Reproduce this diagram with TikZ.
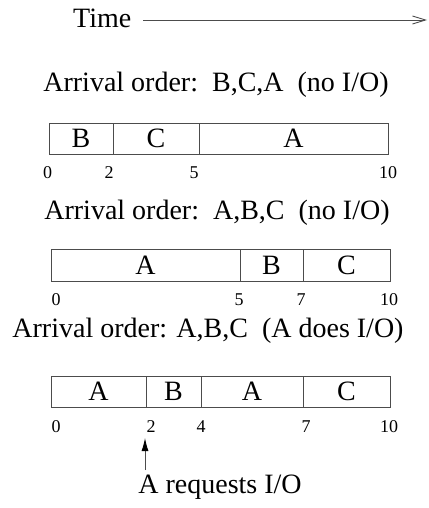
\documentclass[tikz,border=0pt]{standalone}
\usepackage{fontspec}
\setmainfont{Liberation Serif}
\usetikzlibrary{arrows.meta}
\begin{document}
\begin{tikzpicture}[x=1pt,y=-1pt,
  big/.style={inner sep=0pt, font=\fontsize{28}{30}\selectfont},
  tick/.style={inner sep=0pt, anchor=base, font=\fontsize{18}{20}\selectfont},
  seg/.style={draw=black!70, line width=0.9pt, rectangle, inner sep=0pt, font=\fontsize{28}{30}\selectfont},
  ]
\useasboundingbox (0,0) rectangle (428,508);
% time axis
\node[big, anchor=base west] (time) at (73,28) {Time};
\coordinate (tend) at (427,20);
\draw[black!70, line width=0.9pt, -{Straight Barb[length=13pt,width=8pt]}] (143,20) -- (tend);

% bar 1
\node[big, anchor=base] (t1) at (216,92) {Arrival order:\ \ B,C,A\ \ (no I/O)};
\node[seg, minimum width=64pt, minimum height=31pt] (b1a) at (81,138.5) {B};
\node[seg, minimum width=86pt, minimum height=31pt] (b1b) at (156,138.5) {C};
\node[seg, minimum width=189pt, minimum height=31pt] (b1c) at (293.5,138.5) {A};
\node[tick] (k10) at (47.5,178) {0};
\node[tick] (k12) at (109,178) {2};
\node[tick] (k15) at (194,178) {5};
\node[tick] (k110) at (388,178) {10};

% bar 2
\node[big, anchor=base] (t2) at (217,219) {Arrival order:\ \ A,B,C\ \ (no I/O)};
\node[seg, minimum width=189pt, minimum height=32pt] (b2a) at (145.5,265) {A};
\node[seg, minimum width=63pt, minimum height=32pt] (b2b) at (271.5,265) {B};
\node[seg, minimum width=87pt, minimum height=32pt] (b2c) at (346.5,265) {C};
\node[tick] (k20) at (56,305) {0};
\node[tick] (k25) at (239,305) {5};
\node[tick] (k27) at (301,305) {7};
\node[tick] (k210) at (389,305) {10};

% bar 3
\node[big, anchor=base] (t3) at (208,337) {Arrival order: A,B,C\ \ (A does I/O)};
\node[seg, minimum width=95pt, minimum height=31pt] (b3a) at (98.5,391.5) {A};
\node[seg, minimum width=55pt, minimum height=31pt] (b3b) at (173.5,391.5) {B};
\node[seg, minimum width=102pt, minimum height=31pt] (b3c) at (252,391.5) {A};
\node[seg, minimum width=87pt, minimum height=31pt] (b3d) at (346.5,391.5) {C};
\node[tick] (k30) at (56,432) {0};
\node[tick] (k32) at (151,432) {2};
\node[tick] (k34) at (201,432) {4};
\node[tick] (k37) at (306,432) {7};
\node[tick] (k310) at (389,432) {10};

% I/O request
\node[big, anchor=base] (req) at (220,493) {A requests I/O};
\coordinate (rs) at (145,470);
\coordinate (rt) at (145,438);
\draw[black!70, line width=0.9pt, -{Latex[length=13pt,width=7pt,black]}] (rs) -- (rt);
\end{tikzpicture}
\end{document}
